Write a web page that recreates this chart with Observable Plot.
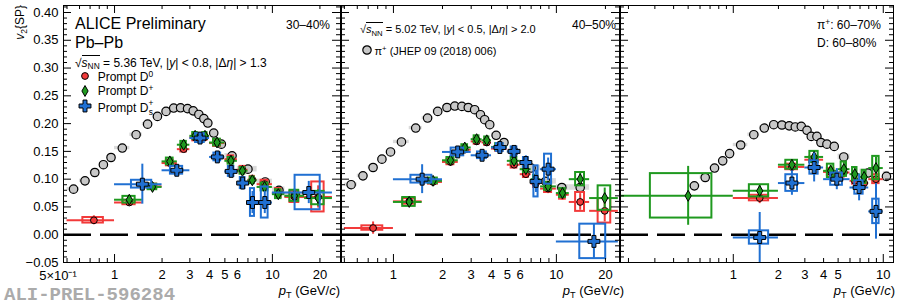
<!DOCTYPE html>
<html><head><meta charset="utf-8">
<script src="https://cdn.jsdelivr.net/npm/d3@7"></script>
<script src="https://cdn.jsdelivr.net/npm/@observablehq/plot@0.6"></script>
<style>
body{margin:0;background:#fff;}
#chart{position:relative;width:897px;height:308px;overflow:hidden;font-family:"Liberation Sans",Arial,Helvetica,sans-serif;background:#fff;}
#chart svg{position:absolute;top:0;}
.t{position:absolute;white-space:nowrap;line-height:1;color:#000;z-index:5;}
.sub{font-size:70%;position:relative;top:0.35em;}
.sup{font-size:70%;position:relative;top:-0.45em;}
.ov{border-top:1px solid #000;}
.mk{position:absolute;z-index:5;overflow:visible;}
</style></head><body><div id="chart"></div><script>
// ---------------- data ----------------
const Y_MAJOR = [-0.05, 0, 0.05, 0.10, 0.15, 0.20, 0.25, 0.30, 0.35, 0.40];
const P1_X_LABELS = [1, 2, 3, 4, 5, 6, 7, 10, 20];
const P2_X_LABELS = [1, 2, 3, 4, 5, 6, 7, 8, 10, 20];
const P3_X_LABELS = [1, 2, 3, 4, 5, 6, 7, 10];

// Panel 1 (30-40%) pions
const p1PiPt  = [0.55,0.65,0.75,0.85,0.95,1.12,1.37,1.62,1.87,2.12,2.37,2.62,2.9,3.15,3.42,3.68,3.9,4.25,4.75,5.55,7.0,9.0,11.0,14.0];
const p1PiV2  = [0.082,0.097,0.112,0.126,0.139,0.156,0.180,0.199,0.213,0.222,0.228,0.2285,0.227,0.223,0.2165,0.209,0.201,0.183,0.163,0.142,0.118,0.095,0.080,0.071];
const p1PiSys = [0.003,0.003,0.003,0.003,0.003,0.003,0.003,0.003,0.004,0.004,0.004,0.004,0.004,0.004,0.004,0.004,0.004,0.004,0.004,0.004,0.005,0.005,0.006,0.006];
const p1PiLo  = [0.5,0.6,0.7,0.8,0.9,1.0,1.25,1.5,1.75,2.0,2.25,2.5,2.75,3.0,3.25,3.5,3.75,4.0,4.5,5.0,6.0,8.0,10,12];
const p1PiHi  = [0.6,0.7,0.8,0.9,1.0,1.25,1.5,1.75,2.0,2.25,2.5,2.75,3.0,3.25,3.5,3.75,4.0,4.5,5.0,6.0,8.0,10,12,16];
// Panel 1 D0
const p1D0Lo   = [0.5,1,1.5,2,2.5,3,3.5,4,5,6,7,8,10,12,16];
const p1D0Hi   = [1,1.5,2,2.5,3,3.5,4,5,6,7,8,10,12,16,24];
const p1D0Pt   = [0.74,1.24,1.74,2.24,2.74,3.24,3.74,4.46,5.46,6.46,7.46,8.92,10.9,13.8,19.5];
const p1D0V2   = [0.026,0.058,0.087,0.129,0.154,0.175,0.176,0.165,0.136,0.117,0.099,0.091,0.075,0.068,0.068];
const p1D0Stat = [0.008,0.006,0.005,0.005,0.005,0.005,0.005,0.005,0.006,0.007,0.008,0.008,0.010,0.012,0.020];
const p1D0Sys  = [0.005,0.004,0.004,0.005,0.005,0.006,0.006,0.006,0.006,0.006,0.006,0.007,0.008,0.010,0.027];
// Panel 1 D+
const p1DpLo   = [1,1.5,2,2.5,3,3.5,4,5,6,7,8,10,12,16];
const p1DpHi   = [1.5,2,2.5,3,3.5,4,5,6,7,8,10,12,16,24];
const p1DpPt   = [1.24,1.74,2.24,2.74,3.24,3.74,4.46,5.46,6.46,7.46,8.92,10.9,13.8,19.5];
const p1DpV2   = [0.063,0.086,0.132,0.162,0.178,0.178,0.166,0.133,0.115,0.098,0.086,0.073,0.070,0.066];
const p1DpStat = [0.006,0.005,0.005,0.005,0.005,0.005,0.005,0.006,0.007,0.008,0.008,0.009,0.012,0.015];
const p1DpSys  = [0.006,0.005,0.006,0.006,0.006,0.006,0.006,0.006,0.006,0.006,0.007,0.008,0.010,0.012];
// Panel 1 Ds+
const p1DsLo   = [1,2,3,4,5,6,7,8,10];
const p1DsHi   = [2,3,4,5,6,7,8,10,24];
const p1DsPt   = [1.5,2.48,3.48,4.48,5.48,6.48,7.48,8.95,17];
const p1DsV2   = [0.091,0.116,0.174,0.140,0.114,0.093,0.058,0.058,0.076];
const p1DsStat = [0.036,0.008,0.008,0.008,0.009,0.012,0.020,0.020,0.020];
const p1DsSys  = [0.007,0.007,0.008,0.007,0.009,0.010,0.025,0.028,0.031];

// Panel 2 (40-50%) pions
const p2PiPt  = [0.55,0.65,0.75,0.85,0.96,1.12,1.37,1.62,1.87,2.13,2.38,2.63,2.88,3.15,3.42,3.63,3.9,4.27,4.77,5.5,7.0,8.6,10.8,14.0];
const p2PiV2  = [0.090,0.106,0.121,0.136,0.149,0.167,0.192,0.210,0.222,0.229,0.2316,0.231,0.229,0.225,0.216,0.207,0.198,0.179,0.166,0.150,0.120,0.096,0.085,0.085];
const p2PiSys = [0.003,0.003,0.003,0.003,0.003,0.003,0.003,0.003,0.004,0.004,0.004,0.004,0.004,0.004,0.004,0.004,0.004,0.004,0.004,0.004,0.005,0.005,0.005,0.005];
const p2PiLo  = [0.5,0.6,0.7,0.8,0.9,1.0,1.25,1.5,1.75,2.0,2.25,2.5,2.75,3.0,3.25,3.5,3.75,4.0,4.5,5.0,6.0,8.0,10,12];
const p2PiHi  = [0.6,0.7,0.8,0.9,1.0,1.25,1.5,1.75,2.0,2.25,2.5,2.75,3.0,3.25,3.5,3.75,4.0,4.5,5.0,6.0,8.0,10,12,16];
// Panel 2 D0
const p2D0Lo   = [0.5,1,1.5,2,2.5,3,3.5,4,5,6,7,8,10,12,16];
const p2D0Hi   = [1,1.5,2,2.5,3,3.5,4,5,6,7,8,10,12,16,24];
const p2D0Pt   = [0.75,1.25,1.75,2.24,2.74,3.24,3.74,4.46,5.5,6.5,7.46,8.9,10.9,14,19.8];
const p2D0V2   = [0.012,0.060,0.095,0.131,0.153,0.168,0.166,0.155,0.126,0.109,0.092,0.083,0.072,0.059,0.043];
const p2D0Stat = [0.011,0.005,0.005,0.005,0.005,0.005,0.005,0.005,0.006,0.007,0.008,0.009,0.010,0.015,0.020];
const p2D0Sys  = [0.004,0.005,0.004,0.005,0.005,0.005,0.005,0.005,0.006,0.006,0.007,0.007,0.008,0.017,0.022];
// Panel 2 D+
const p2DpLo   = [1,1.5,2,2.5,3,3.5,4,5,6,7,8,10,12,16];
const p2DpHi   = [1.5,2,2.5,3,3.5,4,5,6,7,8,10,12,16,24];
const p2DpPt   = [1.25,1.75,2.24,2.74,3.24,3.74,4.46,5.5,6.5,7.46,8.9,10.9,14,19.8];
const p2DpV2   = [0.059,0.097,0.134,0.157,0.172,0.170,0.158,0.133,0.118,0.100,0.087,0.075,0.100,0.066];
const p2DpStat = [0.006,0.005,0.005,0.005,0.005,0.005,0.005,0.006,0.007,0.008,0.009,0.010,0.013,0.018];
const p2DpSys  = [0.008,0.005,0.005,0.005,0.006,0.006,0.006,0.006,0.006,0.007,0.007,0.008,0.012,0.022];
// Panel 2 Ds+
const p2DsLo   = [1,2,3,4,5,6,7,8,10];
const p2DsHi   = [2,3,4,5,6,7,8,10,24];
const p2DsPt   = [1.5,2.48,3.5,4.5,5.5,6.5,7.5,8.9,17];
const p2DsV2   = [0.100,0.149,0.143,0.157,0.150,0.130,0.096,0.118,-0.012];
const p2DsStat = [0.026,0.008,0.007,0.008,0.009,0.012,0.020,0.020,0.032];
const p2DsSys  = [0.007,0.007,0.006,0.007,0.008,0.009,0.028,0.027,0.031];

// Panel 3 (pi 60-70%, D 60-80%) pions
const p3PiPt  = [0.55,0.65,0.75,0.85,0.945,1.12,1.37,1.61,1.86,2.11,2.36,2.59,2.84,3.10,3.31,3.61,3.84,4.21,4.71,5.45,7.9,10.5];
const p3PiV2  = [0.088,0.103,0.120,0.133,0.146,0.1615,0.180,0.192,0.198,0.1975,0.196,0.194,0.195,0.188,0.177,0.177,0.166,0.163,0.159,0.140,0.111,0.105];
const p3PiSys = [0.003,0.003,0.003,0.003,0.003,0.003,0.003,0.004,0.004,0.004,0.004,0.004,0.004,0.004,0.004,0.004,0.005,0.005,0.005,0.005,0.007,0.009];
const p3PiLo  = [0.5,0.6,0.7,0.8,0.9,1.0,1.25,1.5,1.75,2.0,2.25,2.5,2.75,3.0,3.25,3.5,3.75,4.0,4.5,5.0,7.0,10];
const p3PiHi  = [0.6,0.7,0.8,0.9,1.0,1.25,1.5,1.75,2.0,2.25,2.5,2.75,3.0,3.25,3.5,3.75,4.0,4.5,5.0,6.0,9.0,11];
// Panel 3 D0
const p3D0Lo   = [1,2,3,4,5,6,7,8];
const p3D0Hi   = [2,3,4,5,6,7,8,10];
const p3D0Pt   = [1.5,2.46,3.46,4.46,5.46,6.46,7.46,8.94];
const p3D0V2   = [0.066,0.122,0.135,0.113,0.112,0.097,0.093,0.100];
const p3D0Stat = [0.010,0.008,0.008,0.009,0.010,0.011,0.012,0.015];
const p3D0Sys  = [0.005,0.005,0.005,0.006,0.006,0.006,0.006,0.008];
// Panel 3 D+
const p3DpLo   = [0,1,2,3,4,5,6,7,8];
const p3DpHi   = [1,2,3,4,5,6,7,8,10];
const p3DpPt   = [0.5,1.5,2.46,3.46,4.46,5.46,6.46,7.46,8.94];
const p3DpV2   = [0.070,0.079,0.126,0.140,0.115,0.118,0.109,0.104,0.120];
const p3DpStat = [0.053,0.010,0.008,0.009,0.010,0.012,0.012,0.013,0.020];
const p3DpSys  = [0.040,0.011,0.008,0.010,0.012,0.013,0.012,0.012,0.021];
// Panel 3 Ds+
const p3DsLo   = [1,2,3,4,6,8];
const p3DsHi   = [2,3,4,6,8,10];
const p3DsPt   = [1.5,2.46,3.46,4.9,6.9,8.94];
const p3DsV2   = [-0.005,0.093,0.121,0.100,0.085,0.042];
const p3DsStat = [0.045,0.022,0.026,0.019,0.024,0.050];
const p3DsSys  = [0.012,0.015,0.012,0.011,0.012,0.022];

// ---------------- helpers ----------------
const RED = "#f23a3a", GREEN = "#1f991f", BLUE = "#2070d2";
const PI_FILL = "#c8c8c8", PI_SYS = "#dadada";
const H = 308, MT = 5, MB = 46, PH = H - MT - MB;
const Y_DOMAIN = [-0.05, 0.4126];
const Y_MINOR = d3.range(-5, 42).filter(i => i % 5 !== 0).map(i => i / 100);
const BOX = 0.22;
const R_D0 = 3.4, R_DP = 5.2, R_DS = 5.0, R_PI = 4.2;

const series = (lo, hi, pt, v, stat, sys) => pt.map((p, i) => ({lo: lo[i], hi: hi[i], pt: p, v: v[i], stat: stat[i], sys: sys[i]}));
const pions = (lo, hi, pt, v, sys) => pt.map((p, i) => ({lo: lo[i], hi: hi[i], pt: p, v: v[i], sys: sys[i]}));

const thinDiamond = {draw(ctx, size) { const r = Math.sqrt(size / Math.PI); const w = r * 0.6, h = r * 1.05;
  ctx.moveTo(0, -h); ctx.lineTo(w, 0); ctx.lineTo(0, h); ctx.lineTo(-w, 0); ctx.closePath(); }};

function logTicks([a, b]) {
  const major = [], minor = [];
  for (let e = -1; e <= 1; e++) for (let k = 1; k <= 9; k++) {
    const v = +(k * Math.pow(10, e)).toPrecision(3);
    if (v >= a && v <= b) (k === 1 ? major : minor).push(v);
  }
  return {major, minor};
}

function dMarks(data, color, symbol, r, xmin) {
  return [
    Plot.rect(data, {x1: d => d.pt - BOX * (d.hi - d.lo), x2: d => d.pt + BOX * (d.hi - d.lo),
      y1: d => d.v - d.sys, y2: d => d.v + d.sys, fill: "none", stroke: color, strokeWidth: 2}),
    Plot.ruleY(data, {y: "v", x1: d => Math.max(d.lo, xmin), x2: "hi", stroke: color, strokeWidth: 2}),
    Plot.ruleX(data, {x: "pt", y1: d => d.v - d.stat, y2: d => d.v + d.stat, stroke: color, strokeWidth: 2}),
    Plot.dot(data, {x: "pt", y: "v", symbol, r, fill: color, stroke: "black", strokeWidth: 1})
  ];
}

const yFmt = d => (d < 0 ? "\u2212" : "") + Math.abs(d).toFixed(2);

function panel({width, ml, mr, xDomain, xLabels, pi, d0, dp, ds, yAxis, half}) {
  const PW = width - ml - mr;
  const xt = logTicks(xDomain);
  const marks = [
    Plot.rect(pi, {x1: "lo", x2: "hi", y1: d => d.v - d.sys, y2: d => d.v + d.sys, fill: PI_SYS}),
    Plot.dot(pi, {x: "pt", y: "v", r: R_PI, fill: PI_FILL, stroke: "black", strokeWidth: 1.2}),
    Plot.ruleY([0], {stroke: "black", strokeWidth: 2.6, strokeDasharray: "28,9"}),
    ...dMarks(d0, RED, "circle", R_D0, xDomain[0]),
    ...dMarks(dp, GREEN, thinDiamond, R_DP, xDomain[0]),
    ...dMarks(ds, BLUE, d3.symbolCross, R_DS, xDomain[0]),
    Plot.tickX(xt.major, {x: d => d, insetTop: PH - 8}),
    Plot.tickX(xt.minor, {x: d => d, insetTop: PH - 4}),
    Plot.tickX(xt.major, {x: d => d, insetBottom: PH - 8}),
    Plot.tickX(xt.minor, {x: d => d, insetBottom: PH - 4}),
    Plot.tickY(Y_MAJOR, {y: d => d, insetRight: PW - 8}),
    Plot.tickY(Y_MINOR, {y: d => d, insetRight: PW - 4}),
    Plot.tickY(Y_MAJOR, {y: d => d, insetLeft: PW - 8}),
    Plot.tickY(Y_MINOR, {y: d => d, insetLeft: PW - 4}),
    Plot.frame({stroke: "black", strokeWidth: 1}),
    Plot.axisX({ticks: xLabels, tickSize: 0, tickPadding: 7, fontSize: 13, label: null, tickFormat: d => String(d)})
  ];
  if (half) marks.push(Plot.axisX({ticks: [0.5], tickSize: 0, tickPadding: 8, fontSize: 13, label: null, dx: -9,
      tickFormat: () => "5\u00d710\u207b\u00b9"}));
  if (yAxis) marks.push(Plot.axisY({ticks: Y_MAJOR, tickSize: 0, tickPadding: 5, fontSize: 13, label: null, tickFormat: yFmt}));
  return Plot.plot({
    width, height: H, marginLeft: ml, marginRight: mr, marginTop: MT, marginBottom: MB,
    x: {type: "log", domain: xDomain},
    y: yAxis ? {domain: Y_DOMAIN} : {domain: Y_DOMAIN, axis: null},
    style: {background: "transparent", fontFamily: "'Liberation Sans', Arial, sans-serif", fontSize: "13px", overflow: "visible"},
    marks
  });
}

const chart = document.getElementById("chart");
function place(svg, left) { svg.style.left = left + "px"; chart.appendChild(svg); }

place(panel({width: 341, ml: 63, mr: 1, xDomain: [0.475, 27], xLabels: P1_X_LABELS, half: true, yAxis: true,
  pi: pions(p1PiLo, p1PiHi, p1PiPt, p1PiV2, p1PiSys),
  d0: series(p1D0Lo, p1D0Hi, p1D0Pt, p1D0V2, p1D0Stat, p1D0Sys),
  dp: series(p1DpLo, p1DpHi, p1DpPt, p1DpV2, p1DpStat, p1DpSys),
  ds: series(p1DsLo, p1DsHi, p1DsPt, p1DsV2, p1DsStat, p1DsSys)}), 0);
place(panel({width: 280, ml: 1, mr: 1, xDomain: [0.48, 24.4], xLabels: P2_X_LABELS,
  pi: pions(p2PiLo, p2PiHi, p2PiPt, p2PiV2, p2PiSys),
  d0: series(p2D0Lo, p2D0Hi, p2D0Pt, p2D0V2, p2D0Stat, p2D0Sys),
  dp: series(p2DpLo, p2DpHi, p2DpPt, p2DpV2, p2DpStat, p2DpSys),
  ds: series(p2DsLo, p2DsHi, p2DsPt, p2DsV2, p2DsStat, p2DsSys)}), 340);
place(panel({width: 278, ml: 1, mr: 4, xDomain: [0.177, 11.7], xLabels: P3_X_LABELS,
  pi: pions(p3PiLo, p3PiHi, p3PiPt, p3PiV2, p3PiSys),
  d0: series(p3D0Lo, p3D0Hi, p3D0Pt, p3D0V2, p3D0Stat, p3D0Sys),
  dp: series(p3DpLo, p3DpHi, p3DpPt, p3DpV2, p3DpStat, p3DpSys),
  ds: series(p3DsLo, p3DsHi, p3DsPt, p3DsV2, p3DsStat, p3DsSys)}), 619);

// ---------------- text overlays ----------------
function text(html, x, baseline, size, opt = {}) {
  const el = document.createElement("div");
  el.className = "t"; el.innerHTML = html;
  el.style.fontSize = size + "px";
  el.style.top = (baseline - 0.8465 * size) + "px";
  if (opt.right) el.style.right = (897 - x) + "px"; else el.style.left = x + "px";
  if (opt.color) el.style.color = opt.color;
  if (opt.font) el.style.fontFamily = opt.font;
  if (opt.weight) el.style.fontWeight = opt.weight;
  chart.appendChild(el);
  return el;
}
function marker(cx, cy, shape, fill, size, strokeW = 1) {
  const s = document.createElementNS("http://www.w3.org/2000/svg", "svg");
  s.setAttribute("class", "mk"); s.setAttribute("width", 20); s.setAttribute("height", 20);
  s.style.left = (cx - 10) + "px"; s.style.top = (cy - 10) + "px";
  const p = document.createElementNS("http://www.w3.org/2000/svg", "path");
  p.setAttribute("d", d3.symbol(shape, size)());
  p.setAttribute("transform", "translate(10,10)");
  p.setAttribute("fill", fill); p.setAttribute("stroke", "black"); p.setAttribute("stroke-width", strokeW);
  s.appendChild(p); chart.appendChild(s);
}
const sqrtS = '\u221a<span class="ov"><i>s</i><span class="sub">NN</span></span>';

text("ALICE Preliminary", 75, 29.3, 16);
text("Pb\u2013Pb", 75, 48.3, 16);
text(sqrtS + " = 5.36 TeV, |<i>y</i>| &lt; 0.8, |\u0394<i>\u03b7</i>| &gt; 1.3", 75, 66.7, 12);
text("30\u201340%", 330, 29.3, 12, {right: true});
text('Prompt D<span class="sup">0</span>', 97.7, 81.3, 12);
text('Prompt D<span class="sup">+</span>', 97.7, 95.3, 12);
text('Prompt D<span style="position:relative;display:inline-block;width:0.45em;height:1em;vertical-align:baseline"><span style="position:absolute;left:0;top:-0.1em;font-size:70%;line-height:1">+</span><span style="position:absolute;left:0.05em;top:0.9em;font-size:70%;line-height:1">s</span></span>', 97.7, 110.3, 12);
marker(85, 76, d3.symbolCircle, RED, Math.PI * R_D0 * R_D0);
marker(85, 90.5, thinDiamond, GREEN, Math.PI * R_DP * R_DP);
marker(85, 106, d3.symbolCross, BLUE, Math.PI * R_DS * R_DS);

text(sqrtS + " = 5.02 TeV, |<i>y</i>| &lt; 0.5, |\u0394<i>\u03b7</i>| &gt; 2.0", 360, 33.3, 11);
text("40\u201350%", 616, 29.3, 12, {right: true});
marker(367.3, 49.5, d3.symbolCircle, PI_FILL, Math.PI * R_PI * R_PI, 1.2);
text('\u03c0<span class="sup">+</span> (JHEP 09 (2018) 006)', 374.5, 55, 11);

text('\u03c0<span class="sup">+</span>: 60\u201370%', 817, 29.3, 12);
text("D: 60\u201380%", 817, 47.3, 12);

// axis titles
const xTitle = '<i>p</i><span class="sub">T</span> (GeV/<i>c</i>)';
text(xTitle, 340, 295, 13, {right: true});
text(xTitle, 624, 295, 13, {right: true});
text(xTitle, 895, 295, 13, {right: true});
const yt = text('<i>v</i><span class="sub">2</span>{SP}', 0, 0, 12);
yt.style.left = ""; yt.style.right = (897 - 14) + "px"; yt.style.top = "5px";
yt.style.transformOrigin = "100% 0"; yt.style.transform = "rotate(-90deg)";

text("ALI-PREL-596284", 4, 302.5, 19, {color: "#ababab", font: "'Liberation Mono', 'DejaVu Sans Mono', monospace", weight: "bold"});
</script></body></html>
